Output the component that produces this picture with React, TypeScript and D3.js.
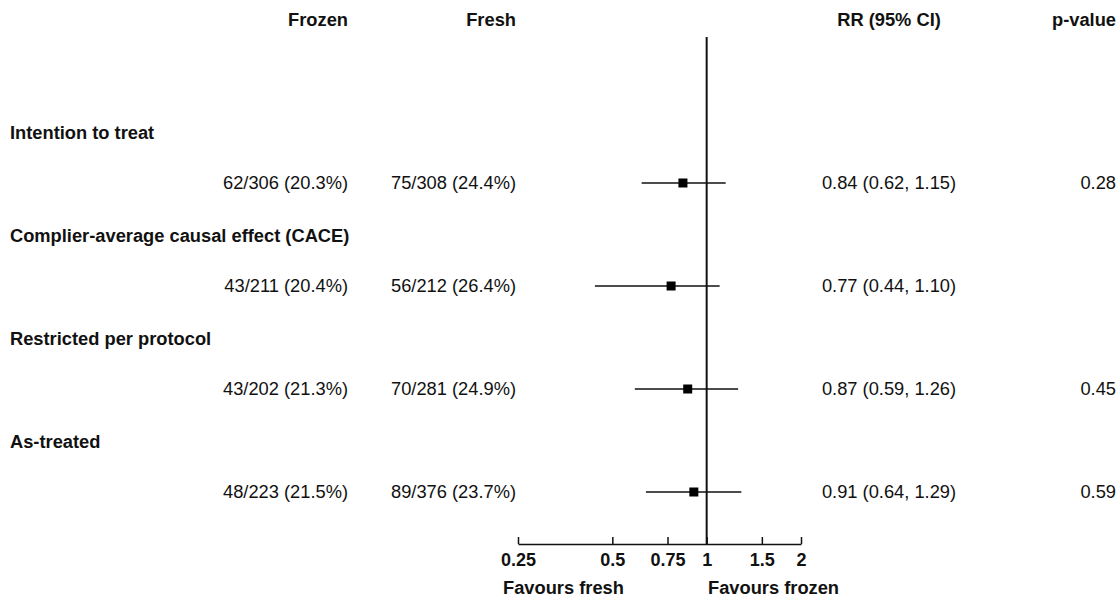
import { useEffect, useRef } from "react";
import * as d3 from "d3";

const groups = [
  "Intention to treat",
  "Complier-average causal effect (CACE)",
  "Restricted per protocol",
  "As-treated",
];
const frozen = ["62/306 (20.3%)", "43/211 (20.4%)", "43/202 (21.3%)", "48/223 (21.5%)"];
const fresh = ["75/308 (24.4%)", "56/212 (26.4%)", "70/281 (24.9%)", "89/376 (23.7%)"];
const rr = [0.84, 0.77, 0.87, 0.91];
const lower = [0.62, 0.44, 0.59, 0.64];
const upper = [1.15, 1.1, 1.26, 1.29];
const pValues = ["0.28", "", "0.45", "0.59"];
const tickValues = [0.25, 0.5, 0.75, 1, 1.5, 2];

const FONT = "'Liberation Sans', Arial, Helvetica, sans-serif";

export default function App() {
  const svgRef = useRef<SVGSVGElement | null>(null);

  useEffect(() => {
    document.body.style.margin = "0";
    document.body.style.overflow = "hidden";

    const width = 1118;
    const height = 599;
    const axisY = 544;
    const topY = 37;

    const svg = d3.select(svgRef.current).attr("width", width).attr("height", height);
    svg.selectAll("*").remove();

    const x = d3.scaleLog().base(2).domain([0.25, 2]).range([518, 801]);
    // data rows, group label sits 50px above each
    const y = d3.scaleLinear().domain([0, 3]).range([183, 492]);

    const g = svg
      .append("g")
      .style("font-family", FONT)
      .style("font-size", "18.3px")
      .attr("fill", "#111");

    // headers
    const headers = [
      { text: "Frozen", x: 348, anchor: "end" },
      { text: "Fresh", x: 516, anchor: "end" },
      { text: "RR (95% CI)", x: 889, anchor: "middle" },
      { text: "p-value", x: 1116, anchor: "end" },
    ];
    g.selectAll("text.header")
      .data(headers)
      .join("text")
      .attr("class", "header")
      .attr("x", (d) => d.x)
      .attr("y", 20)
      .attr("dy", "0.35em")
      .attr("text-anchor", (d) => d.anchor)
      .style("font-weight", "bold")
      .text((d) => d.text);

    // group labels
    g.selectAll("text.group")
      .data(groups)
      .join("text")
      .attr("class", "group")
      .attr("x", 10)
      .attr("y", (d, i) => y(i) - 50)
      .attr("dy", "0.35em")
      .style("font-weight", "bold")
      .text((d) => d);

    const cols = [
      { vals: frozen, x: 348, anchor: "end" },
      { vals: fresh, x: 516, anchor: "end" },
      {
        vals: rr.map(
          (d, i) => `${d.toFixed(2)} (${lower[i].toFixed(2)}, ${upper[i].toFixed(2)})`
        ),
        x: 889,
        anchor: "middle",
      },
      { vals: pValues, x: 1116, anchor: "end" },
    ];
    cols.forEach((c) => {
      g.append("g")
        .selectAll("text")
        .data(c.vals)
        .join("text")
        .attr("x", c.x)
        .attr("y", (d, i) => y(i))
        .attr("dy", "0.35em")
        .attr("text-anchor", c.anchor)
        .text((d) => d);
    });

    // reference line at 1
    svg
      .append("line")
      .attr("x1", x(1))
      .attr("x2", x(1))
      .attr("y1", topY)
      .attr("y2", axisY)
      .attr("stroke", "#111")
      .attr("stroke-width", 2);

    // axis, ticks pointing up
    const xAxis = d3
      .axisBottom(x)
      .tickValues(tickValues)
      .tickFormat((d) => String(d))
      .tickSizeInner(-7)
      .tickSizeOuter(0)
      .tickPadding(9);

    const ax = svg
      .append("g")
      .attr("transform", `translate(0,${axisY})`)
      .call(xAxis);
    ax.select(".domain").attr("stroke", "#111").attr("stroke-width", 1.5);
    ax.selectAll(".tick line").attr("stroke", "#111").attr("stroke-width", 1.5);
    ax.selectAll(".tick text")
      .attr("fill", "#111")
      .style("font-family", FONT)
      .style("font-size", "18px")
      .style("font-weight", "bold");

    g.append("text")
      .attr("x", 503)
      .attr("y", 588)
      .attr("dy", "0.35em")
      .style("font-weight", "bold")
      .text("Favours fresh");
    g.append("text")
      .attr("x", 708)
      .attr("y", 588)
      .attr("dy", "0.35em")
      .style("font-weight", "bold")
      .text("Favours frozen");

    // CIs
    svg
      .append("g")
      .selectAll("line")
      .data(rr)
      .join("line")
      .attr("x1", (d, i) => x(lower[i]))
      .attr("x2", (d, i) => x(upper[i]))
      .attr("y1", (d, i) => y(i))
      .attr("y2", (d, i) => y(i))
      .attr("stroke", "#111")
      .attr("stroke-width", 1.5);

    const s = 9;
    svg
      .append("g")
      .selectAll("rect")
      .data(rr)
      .join("rect")
      .attr("x", (d) => x(d) - s / 2)
      .attr("y", (d, i) => y(i) - s / 2)
      .attr("width", s)
      .attr("height", s)
      .attr("fill", "#000");
  }, []);

  return (
    <div>
      <svg ref={svgRef} style={{ display: "block", background: "#fff" }}></svg>
    </div>
  );
}
